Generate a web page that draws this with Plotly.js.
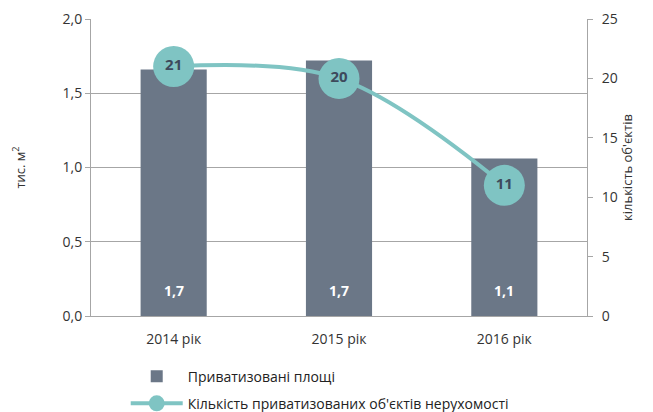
<!DOCTYPE html>
<html><head><meta charset="utf-8">
<script src="https://cdn.plot.ly/plotly-3.0.1.min.js"></script>
<style>body{margin:0}#c{width:653px;height:412px}</style>
</head><body><div id="c"></div>
<script>
const categories = ['2014 рік', '2015 рік', '2016 рік'];
const areaValues = [1.66, 1.72, 1.06];
const areaLabels = ['1,7', '1,7', '1,1'];
const countValues = [21, 20, 11];
const leftTicks = [0, 0.5, 1, 1.5, 2];
const rightTicks = [0, 5, 10, 15, 20, 25];

const font = 'Open Sans, Noto Sans, sans-serif';
const bars = {
  type: 'bar', x: categories, y: areaValues, name: 'Приватизовані площі',
  legendgroup: 'a',
  marker: {color: '#6b7787'},
  hoverinfo: 'none'
};
const line = {
  type: 'scatter', mode: 'lines+markers+text', x: categories, y: countValues, yaxis: 'y2',
  name: 'Кількість приватизованих об\'єктів нерухомості',
  legendgroup: 'b',
  line: {color: '#7fc4c3', width: 4, shape: 'spline', smoothing: 1},
  marker: {color: '#7fc4c3', size: 41},
  text: countValues.map(String), textposition: 'middle center',
  textfont: {color: '#3d4a5c', size: 15, family: font, weight: 'bold'},
  hoverinfo: 'none'
};
const annotations = categories.map((c, i) => ({
  x: c, y: 0, xref: 'x', yref: 'y', yanchor: 'bottom', yshift: 14,
  text: '<b>' + areaLabels[i] + '</b>', showarrow: false,
  font: {color: '#ffffff', size: 14, family: font}
}));
const layout = {
  width: 653, height: 412,
  margin: {l: 91, r: 66, t: 19, b: 96, autoexpand: false},
  paper_bgcolor: '#ffffff', plot_bgcolor: '#ffffff',
  separators: ', ',
  bargap: 0.6,
  font: {family: font, size: 14, color: '#333333'},
  showlegend: true,
  annotations: annotations,
  legend: {x: 0.07, y: -0.15, xanchor: 'left', yanchor: 'top', orientation: 'v',
    traceorder: 'grouped', tracegroupgap: 6,
    font: {size: 14, color: '#222222', family: font}, itemwidth: 52,
    bgcolor: 'rgba(0,0,0,0)'},
  xaxis: {type: 'category', showline: true, linecolor: '#a6a6a6', linewidth: 1,
    ticks: '', tickfont: {size: 14}, showgrid: false, zeroline: false, ticklabelstandoff: 10},
  yaxis: {range: [0, 2], tickvals: leftTicks, tickformat: '.1f', showgrid: true,
    gridcolor: '#a6a6a6', gridwidth: 1, showline: true, linecolor: '#a6a6a6',
    ticks: 'outside', ticklen: 5, tickcolor: '#a6a6a6', zeroline: false,
    title: {text: 'тис. м<sup>2</sup>', font: {size: 13}, standoff: 34}},
  yaxis2: {range: [0, 25], tickvals: rightTicks, overlaying: 'y', side: 'right',
    showgrid: false, showline: true, linecolor: '#a6a6a6', ticks: 'outside', ticklen: 5,
    tickcolor: '#a6a6a6', zeroline: false, ticklabelstandoff: 6,
    title: {text: "кількість об'єктів", font: {size: 13}, standoff: 4}}
};
Plotly.newPlot('c', [bars, line], layout, {displayModeBar: false, staticPlot: true});
</script></body></html>
